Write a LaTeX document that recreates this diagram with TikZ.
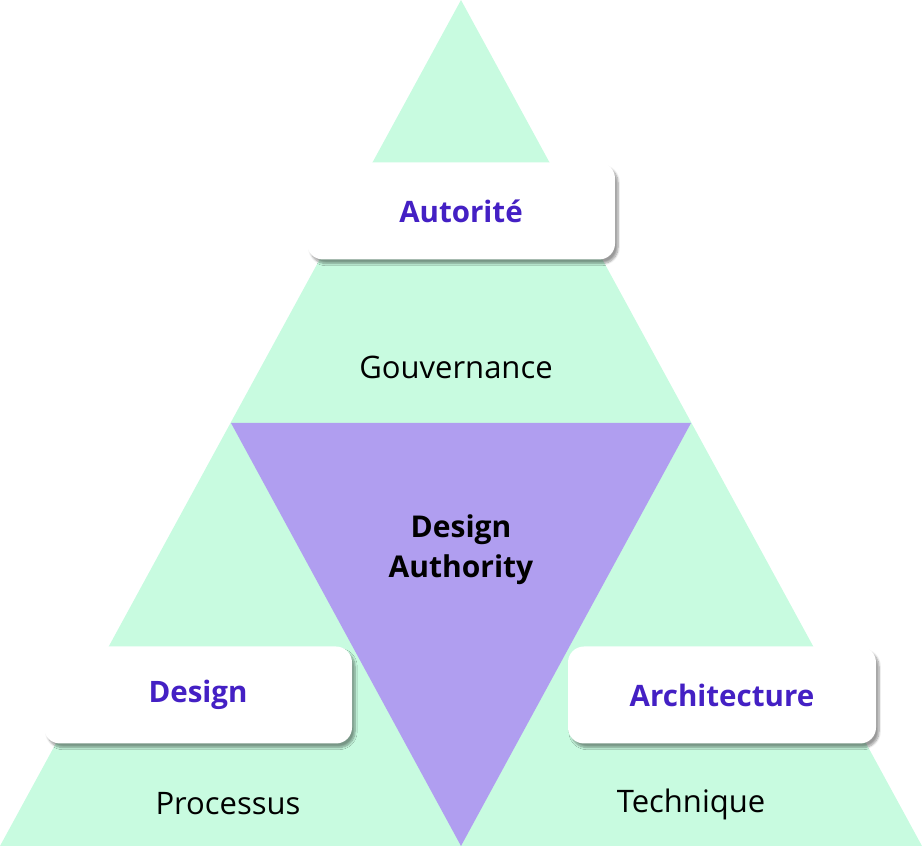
\documentclass[tikz,border=0pt]{standalone}
\usepackage{fontspec}
\setmainfont{Open Sans}
\usetikzlibrary{shadows,shadows.blur}
\definecolor{mint}{HTML}{C8FBE0}
\definecolor{lilac}{HTML}{B09EF0}
\definecolor{violetink}{HTML}{4420C4}

\begin{document}
\begin{tikzpicture}[x=1pt, y=1pt,
	titlebox/.style={fill=white, rounded corners=16pt, minimum width=308pt, minimum height=97pt,
		blur shadow={shadow xshift=3pt, shadow yshift=-4pt, shadow blur steps=8, shadow opacity=40},
		text=violetink, font=\fontsize{29.5}{34}\selectfont\bfseries},
	areatext/.style={font=\fontsize{31}{36}\selectfont}]
	\useasboundingbox (0,0) rectangle (922,846);
	% triangles
	\fill[mint] (0,0) -- (461,846) -- (922,0) -- cycle;
	\fill[lilac] (231,423) -- (691,423) -- (461,0) -- cycle;

	\node[titlebox] (autorite) at (461,635) {Autorité};
	\node[titlebox] (design) at (198,151) {Design};
	\node[titlebox] (archi) at (722,151) {Architecture};

	\node[areatext] (gouv) at (456,479) {Gouvernance};
	\node[areatext] (proc) at (228,42) {Processus};
	\node[areatext] (tech) at (691,42) {Technique};
	\node[font=\fontsize{30}{40}\selectfont\bfseries, align=center] (da) at (461,296) {Design\\Authority};
\end{tikzpicture}
\end{document}
